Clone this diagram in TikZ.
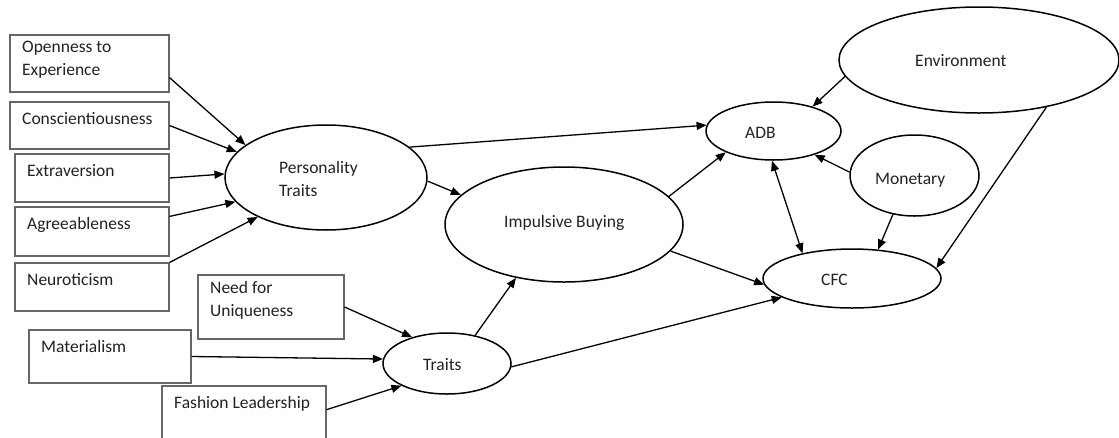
\documentclass[tikz,border=0pt]{standalone}
\usepackage{fontspec}
\setmainfont{Carlito}
\usetikzlibrary{shapes.geometric,arrows.meta}
\definecolor{boxgray}{HTML}{666666}
\definecolor{inkgray}{HTML}{222222}

\begin{document}
\begin{tikzpicture}[x=1pt,y=-1pt,
  box/.style={draw=boxgray, line width=1.1pt, rectangle, inner sep=0pt},
  oval/.style={draw=black, line width=1.5pt, ellipse, inner sep=0pt},
  txt/.style={inner sep=0pt, text=inkgray, font=\fontsize{17.5}{23}\selectfont, align=left,
              anchor=north west, execute at begin node=\strut},
  link/.style={line width=1.3pt, -{Triangle[length=10pt,width=8pt]}},
  both/.style={line width=1.3pt, {Triangle[length=10pt,width=8pt]}-{Triangle[length=10pt,width=8pt]}},
]
\useasboundingbox (0,0) rectangle (1119,437);
\fill[white] (0,0) rectangle (1119,437);
\clip (0,0) rectangle (1119,437);

% predictor boxes
\node[box, minimum width=159pt, minimum height=57pt] (open)   at (89.5,63.5) {};
\node[box, minimum width=159pt, minimum height=47pt] (consc)  at (89.5,125.5) {};
\node[box, minimum width=154pt, minimum height=48pt] (extra)  at (92,178) {};
\node[box, minimum width=154pt, minimum height=49pt] (agree)  at (92,231.5) {};
\node[box, minimum width=154pt, minimum height=48pt] (neuro)  at (92,287) {};
\node[box, minimum width=146pt, minimum height=64pt] (need)   at (271,307) {};
\node[box, minimum width=162pt, minimum height=53pt] (mater)  at (110,356.5) {};
\node[box, minimum width=164pt, minimum height=56pt] (fashion) at (244,414) {};

\node[txt] (t-open)    at (22,40.9)  {Openness to\\Experience};
\node[txt] (t-consc)   at (22,107.9) {Conscientiousness};
\node[txt] (t-extra)   at (27,159.9) {Extraversion};
\node[txt] (t-agree)   at (27,212.9) {Agreeableness};
\node[txt] (t-neuro)   at (27,269.4) {Neuroticism};
\node[txt] (t-need)    at (210,281.4) {Need for\\Uniqueness};
\node[txt] (t-mater)   at (41,336.4) {Materialism};
\node[txt] (t-fashion) at (174,391.9) {Fashion Leadership};

% latent constructs
\node[oval, minimum width=202pt, minimum height=105pt] (pt)     at (326,177.5) {};
\node[oval, minimum width=238pt, minimum height=115pt] (ib)     at (564,224.5) {};
\node[oval, minimum width=135pt, minimum height=58pt]  (adb)    at (773.5,131) {};
\node[oval, minimum width=280pt, minimum height=106pt] (env)    at (979,60) {};
\node[oval, minimum width=129pt, minimum height=81pt]  (mon)    at (914.5,175.5) {};
\node[oval, minimum width=178pt, minimum height=59pt]  (cfc)    at (852,278.5) {};
\node[oval, minimum width=128pt, minimum height=61pt]  (traits) at (447,363.5) {};

\node[txt] (t-pt)     at (279,160.9) {Personality\\Traits};
\node[txt] (t-ib)     at (504,210.9) {Impulsive Buying};
\node[txt] (t-adb)    at (745,121.9) {ADB};
\node[txt] (t-env)    at (915,49.9)  {Environment};
\node[txt] (t-mon)    at (875,168.4) {Monetary};
\node[txt] (t-cfc)    at (821,269.4) {CFC};
\node[txt] (t-traits) at (423,354.4) {Traits};

% paths
\draw[link] (open.-10.3) -- (pt.158.6);
\draw[link] (consc.east) -- (pt.164);
\draw[link] (extra.east) -- (pt.178);
\draw[link] (agree.11.4) -- (pt.195.4);
\draw[link] (neuro.north east) -- (pt.210.9);
\draw[link] (pt.20) -- (adb.175.8);
\draw[link] (pt.358.6) -- (ib.164.9);
\draw[link] (ib.15.8) -- (adb.204.4);
\draw[link] (ib.-14.3) -- (cfc.184.8);
\draw[link] (traits.45.5) -- (ib.228.2);
\draw[link] (traits.-3.1) -- (cfc.195.3);
\draw[link] (need.east) -- (traits.143.1);
\draw[link] (mater.east) -- (traits.176.9);
\draw[link] (fashion.3.5) -- (traits.206.6);
\draw[link] (env.187.7) -- (adb.32);
\draw[link] (env.325.2) -- (cfc.7.9);
\draw[link] (mon.177.8) -- (adb.-30.9);
\draw[link] (mon.241.5) -- (cfc.48.4);
\draw[both] (adb.267) -- (cfc.153.4);
\end{tikzpicture}
\end{document}
